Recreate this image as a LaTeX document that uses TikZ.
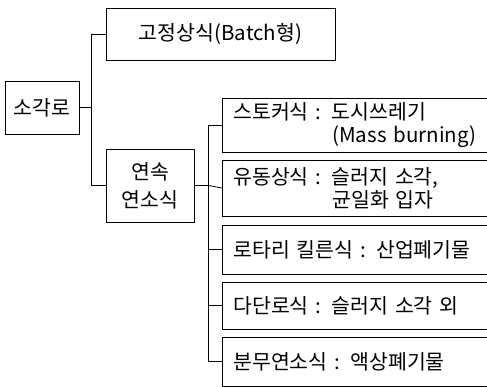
\documentclass[tikz,border=0pt]{standalone}
\usepackage{fontspec}
\setmainfont{Noto Sans CJK KR}
\begin{document}
\begin{tikzpicture}[x=1pt,y=-1pt,
  box/.style={draw=black, line width=0.8pt, inner sep=0pt, font=\fontsize{20.5}{23}\selectfont},
  rbox/.style={box, anchor=west, text width=258pt, align=left, inner xsep=11pt, minimum width=280pt},
  conn/.style={draw=black, line width=0.8pt}]
\useasboundingbox (0,0) rectangle (487,387);
\clip (0,0) rectangle (487,387);
\node[box, minimum width=74pt, minimum height=53pt] (root) at (42,107.5) {소각로};
\node[box, minimum width=229pt, minimum height=52pt] (batch) at (220.5,34) {고정상식(Batch형)};
\node[box, minimum width=88pt, minimum height=73pt, align=center, font=\fontsize{20.5}{28}\selectfont] (cont) at (150,185.5) {연속\\연소식};
\node[rbox, minimum height=54pt] (b1) at (222,125) {스토커식 : 도시쓰레기\\\hspace*{99pt}(Mass burning)};
\node[rbox, minimum height=56pt] (b2) at (222,188) {유동상식 : 슬러지 소각,\\\hspace*{99pt}균일화 입자};
\node[rbox, minimum height=49pt] (b3) at (222,249.5) {로타리 킬른식 : 산업폐기물};
\node[rbox, minimum height=47pt] (b4) at (222,305.5) {다단로식 : 슬러지 소각 외};
\node[rbox, minimum height=49pt] (b5) at (222,361.5) {분무연소식 : 액상폐기물};
\draw[conn] (root.east) -- ++(12,0) coordinate (t1) |- (batch.west);
\draw[conn] (t1) |- (cont.west);
\draw[conn] (cont.east) -- ++(14,0) coordinate (t2) |- (b1.west);
\draw[conn] (t2) -- (b2.west);
\draw[conn] (t2) |- (b3.west);
\draw[conn] (t2) |- (b4.west);
\draw[conn] (t2) |- (b5.west);
\end{tikzpicture}
\end{document}
